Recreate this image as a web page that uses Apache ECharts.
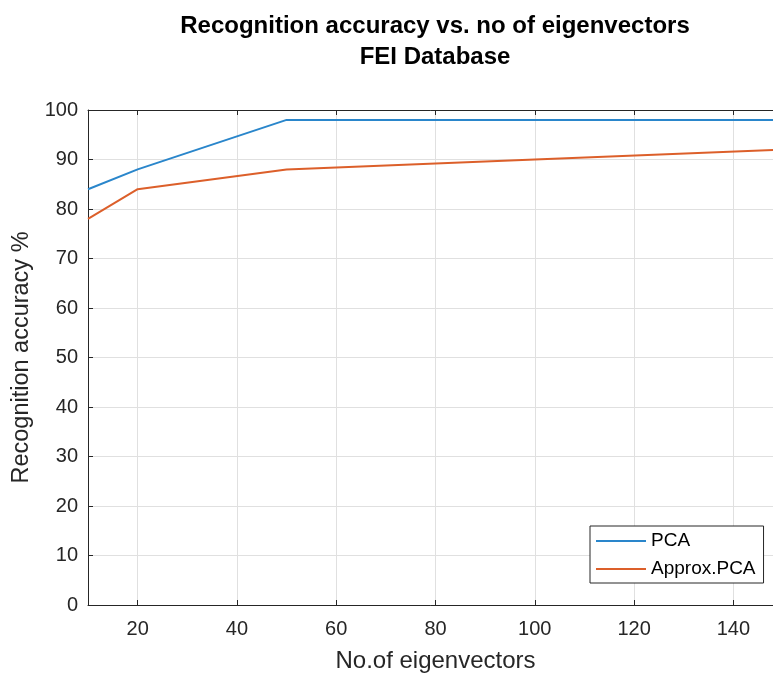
<!DOCTYPE html>
<html>
<head>
<meta charset="utf-8">
<script src="https://cdn.jsdelivr.net/npm/echarts@6/dist/echarts.min.js"></script>
<style>html,body{margin:0;padding:0;background:#fff;}#chart{width:773px;height:675px;}</style>
</head>
<body>
<div id="chart"></div>
<script>
const titleLines = ['Recognition accuracy vs. no of eigenvectors', 'FEI Database'];
const xName = 'No.of eigenvectors';
const yName = 'Recognition accuracy %';
const eigenCounts = [10, 20, 50, 100, 150];
const pcaAccuracy = [84, 88, 98, 98, 98];
const approxPcaAccuracy = [78, 84, 88, 90, 92];
const seriesNames = ['PCA', 'Approx.PCA'];

const FONT = '"Liberation Sans", Arial, Helvetica, sans-serif';
const chart = echarts.init(document.getElementById('chart'), null, {renderer: 'canvas'});
const pairs = (xs, ys) => xs.map((x, i) => [x, ys[i]]);

chart.setOption({
  animation: false,
  backgroundColor: '#ffffff',
  title: {
    text: titleLines.join('\n'),
    left: 435, top: 11, padding: 0, textAlign: 'center',
    textStyle: {fontFamily: FONT, fontSize: 24, fontWeight: 'bold', color: '#000', lineHeight: 31}
  },
  grid: {left: 88, top: 110, width: 695, bottom: 70, containLabel: false, outerBoundsMode: 'none'},
  legend: {
    orient: 'vertical', left: 590, top: 526,
    padding: [5, 8, 4, 5], itemGap: 8, itemWidth: 50, itemHeight: 20,
    borderColor: '#262626', borderWidth: 1, backgroundColor: '#fff',
    itemStyle: {opacity: 0},
    textStyle: {fontFamily: FONT, fontSize: 19, color: '#000', lineHeight: 20},
    data: seriesNames
  },
  xAxis: [{
    type: 'value', min: 10, max: 150, splitNumber: 7,
    name: xName, nameLocation: 'middle', nameGap: 44,
    nameTextStyle: {fontFamily: FONT, fontSize: 24, color: '#262626'},
    axisLine: {show: true, onZero: false, lineStyle: {color: '#262626', width: 1}},
    axisTick: {show: true, inside: true, length: 5, lineStyle: {color: '#262626'}},
    axisLabel: {fontFamily: FONT, fontSize: 20, color: '#262626', margin: 14, showMinLabel: false, showMaxLabel: false},
    splitLine: {show: true, lineStyle: {color: '#e0e0e0', width: 1}}
  }, {
    type: 'value', min: 10, max: 150, splitNumber: 7, position: 'top',
    axisLine: {show: true, onZero: false, lineStyle: {color: '#262626', width: 1}},
    axisTick: {show: true, inside: true, length: 5, lineStyle: {color: '#262626'}},
    axisLabel: {show: false}, splitLine: {show: false}
  }],
  yAxis: [{
    type: 'value', min: 0, max: 100, interval: 10,
    name: yName, nameLocation: 'middle', nameGap: 54, nameRotate: 90,
    nameTextStyle: {fontFamily: FONT, fontSize: 23.5, color: '#262626'},
    axisLine: {show: true, onZero: false, lineStyle: {color: '#262626', width: 1}},
    axisTick: {show: true, inside: true, length: 5, lineStyle: {color: '#262626'}},
    axisLabel: {fontFamily: FONT, fontSize: 20, color: '#262626', margin: 10},
    splitLine: {show: true, lineStyle: {color: '#e0e0e0', width: 1}}
  }],
  series: [{
    name: seriesNames[0], type: 'line', symbol: 'none',
    data: pairs(eigenCounts, pcaAccuracy),
    lineStyle: {color: '#2a86cb', width: 2}, itemStyle: {color: '#2a86cb'}
  }, {
    name: seriesNames[1], type: 'line', symbol: 'none',
    data: pairs(eigenCounts, approxPcaAccuracy),
    lineStyle: {color: '#dc5f2a', width: 2}, itemStyle: {color: '#dc5f2a'}
  }]
});
</script>
</body>
</html>
